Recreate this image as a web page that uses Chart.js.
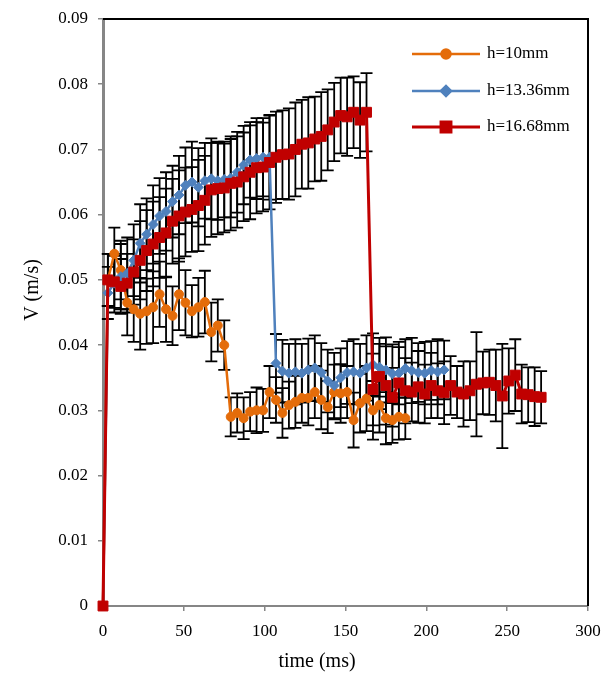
<!DOCTYPE html>
<html>
<head>
<meta charset="utf-8">
<script src="https://cdn.jsdelivr.net/npm/chart.js@4/dist/chart.umd.min.js"></script>
<style>
  body { margin: 0; background: #fff; }
  canvas { display: block; }
</style>
</head>
<body>
<canvas id="velocity-chart" width="608" height="675"></canvas>
<script>
// sample times (ms), shared by all three runs
var timeMs = [0, 3, 7, 11, 15, 19, 23, 27, 31, 35, 39, 43, 47, 51, 55, 59, 63, 67, 71, 75,
  79, 83, 87, 91, 95, 99, 103, 107, 111, 115, 119, 123, 127, 131, 135, 139, 143, 147, 151, 155,
  159, 163, 167, 171, 175, 179, 183, 187, 191, 195, 199, 203, 207, 211, 215, 219, 223, 227, 231, 235,
  239, 243, 247, 251, 255, 259, 263, 267, 271];

// h = 10 mm
var v10 = [0, 0.0500, 0.0540, 0.0515, 0.0465, 0.0455, 0.0448, 0.0452, 0.0458, 0.0478,
  0.0455, 0.0445, 0.0478, 0.0465, 0.0452, 0.0458, 0.0466, 0.0420, 0.0430, 0.0400,
  0.0290, 0.0296, 0.0288, 0.0298, 0.0300, 0.0300, 0.0328, 0.0316, 0.0296, 0.0308,
  0.0313, 0.0319, 0.0319, 0.0328, 0.0316, 0.0305, 0.0328, 0.0326, 0.0328, 0.0285,
  0.0311, 0.0318, 0.0300, 0.0308, 0.0288, 0.0285, 0.0290, 0.0288];
var err10 = [0, 0.0040, 0.0040, 0.0045, 0.0050, 0.0050, 0.0055, 0.0050, 0.0055, 0.0050,
  0.0050, 0.0045, 0.0055, 0.0050, 0.0040, 0.0045, 0.0048, 0.0045, 0.0040, 0.0038,
  0.0030, 0.0030, 0.0032, 0.0030, 0.0035, 0.0033, 0.0040, 0.0035, 0.0038, 0.0036,
  0.0040, 0.0038, 0.0042, 0.0040, 0.0045, 0.0040, 0.0042, 0.0045, 0.0040, 0.0042,
  0.0045, 0.0050, 0.0045, 0.0042, 0.0040, 0.0035, 0.0035, 0.0032];

// h = 13.36 mm
var v1336 = [0, 0.0480, 0.0495, 0.0505, 0.0510, 0.0530, 0.0556, 0.0570, 0.0585, 0.0598,
  0.0605, 0.0620, 0.0630, 0.0645, 0.0650, 0.0642, 0.0652, 0.0655, 0.0652, 0.0654,
  0.0656, 0.0665, 0.0676, 0.0684, 0.0686, 0.0688, 0.0688, 0.0372, 0.0360, 0.0357,
  0.0359, 0.0357, 0.0362, 0.0365, 0.0358, 0.0345, 0.0338, 0.0350, 0.0358, 0.0359,
  0.0357, 0.0365, 0.0370, 0.0366, 0.0362, 0.0356, 0.0357, 0.0364, 0.0361, 0.0358,
  0.0357, 0.0361, 0.0359, 0.0362];
var err1336 = [0, 0.0040, 0.0045, 0.0050, 0.0055, 0.0055, 0.0060, 0.0055, 0.0060, 0.0058,
  0.0060, 0.0055, 0.0060, 0.0058, 0.0062, 0.0060, 0.0058, 0.0062, 0.0060, 0.0058,
  0.0060, 0.0062, 0.0060, 0.0058, 0.0062, 0.0060, 0.0065, 0.0045, 0.0048, 0.0045,
  0.0050, 0.0045, 0.0048, 0.0050, 0.0045, 0.0048, 0.0050, 0.0045, 0.0048, 0.0050,
  0.0045, 0.0050, 0.0048, 0.0045, 0.0050, 0.0045, 0.0048, 0.0045, 0.0050, 0.0045,
  0.0048, 0.0045, 0.0050, 0.0045];

// h = 16.68 mm
var v1668 = [0, 0.0500, 0.0497, 0.0490, 0.0495, 0.0512, 0.0530, 0.0545, 0.0555, 0.0565,
  0.0572, 0.0590, 0.0598, 0.0604, 0.0608, 0.0614, 0.0622, 0.0638, 0.0640, 0.0641,
  0.0648, 0.0650, 0.0658, 0.0665, 0.0672, 0.0673, 0.0680, 0.0688, 0.0692, 0.0693,
  0.0700, 0.0708, 0.0710, 0.0716, 0.0720, 0.0730, 0.0742, 0.0752, 0.0750, 0.0757,
  0.0745, 0.0757, 0.0332, 0.0352, 0.0338, 0.0320, 0.0342, 0.0330, 0.0328, 0.0336,
  0.0325, 0.0338, 0.0330, 0.0327, 0.0338, 0.0328, 0.0325, 0.0330, 0.0340, 0.0342,
  0.0343, 0.0338, 0.0322, 0.0345, 0.0354, 0.0325, 0.0324, 0.0321, 0.0320];
var err1668 = [0, 0.0040, 0.0040, 0.0042, 0.0045, 0.0050, 0.0060, 0.0062, 0.0065, 0.0062,
  0.0068, 0.0065, 0.0070, 0.0068, 0.0065, 0.0070, 0.0068, 0.0072, 0.0070, 0.0068,
  0.0072, 0.0070, 0.0068, 0.0072, 0.0070, 0.0068, 0.0072, 0.0070, 0.0068, 0.0070,
  0.0072, 0.0068, 0.0070, 0.0065, 0.0068, 0.0062, 0.0060, 0.0058, 0.0060, 0.0055,
  0.0058, 0.0060, 0.0055, 0.0050, 0.0060, 0.0045, 0.0055, 0.0050, 0.0045, 0.0055,
  0.0045, 0.0050, 0.0042, 0.0048, 0.0045, 0.0040, 0.0050, 0.0045, 0.0080, 0.0048,
  0.0050, 0.0055, 0.0080, 0.0050, 0.0055, 0.0045, 0.0042, 0.0045, 0.0040];

var yTicks = [0, 0.01, 0.02, 0.03, 0.04, 0.05, 0.06, 0.07, 0.08, 0.09];
var xTicks = [0, 50, 100, 150, 200, 250, 300];

var SERIF = "'Liberation Serif', 'Times New Roman', serif";

function toPoints(vals, errs) {
  return vals.map(function (v, i) { return { x: timeMs[i], y: v, err: errs[i] }; });
}

var series = [
  { label: 'h=10mm', color: '#E46C0A', style: 'circle', radius: 4.5, width: 2.5, data: toPoints(v10, err10), order: 3 },
  { label: 'h=13.36mm', color: '#4F81BD', style: 'rectRot', radius: 5, width: 2.5, data: toPoints(v1336, err1336), order: 2 },
  { label: 'h=16.68mm', color: '#C00000', style: 'rect', radius: 7, width: 3, data: toPoints(v1668, err1668), order: 1 }
];

// vertical error bars with caps, under the lines
var errorBars = {
  id: 'errorBars',
  beforeDatasetsDraw: function (chart) {
    var ctx = chart.ctx, xs = chart.scales.x, ys = chart.scales.y;
    ctx.save();
    ctx.strokeStyle = '#000';
    ctx.lineWidth = 1.8;
    chart.data.datasets.forEach(function (ds) {
      ds.data.forEach(function (p) {
        if (!p.err) return;
        var px = xs.getPixelForValue(p.x);
        var top = ys.getPixelForValue(p.y + p.err);
        var bot = ys.getPixelForValue(p.y - p.err);
        ctx.beginPath();
        ctx.moveTo(px, top); ctx.lineTo(px, bot);
        ctx.moveTo(px - 6, top); ctx.lineTo(px + 6, top);
        ctx.moveTo(px - 6, bot); ctx.lineTo(px + 6, bot);
        ctx.stroke();
      });
    });
    ctx.restore();
  }
};

// black frame on top and right, axis titles and line+marker legend
var frameAndLabels = {
  id: 'frameAndLabels',
  afterDraw: function (chart) {
    var ctx = chart.ctx, a = chart.chartArea;
    ctx.save();
    ctx.strokeStyle = '#000';
    ctx.lineWidth = 2;
    ctx.beginPath();
    ctx.moveTo(a.left, a.top); ctx.lineTo(a.right, a.top); ctx.lineTo(a.right, a.bottom);
    ctx.stroke();

    ctx.fillStyle = '#000';
    ctx.font = '20px ' + SERIF;
    ctx.textAlign = 'center';
    ctx.textBaseline = 'middle';
    ctx.fillText('time (ms)', 317, 662);
    ctx.save();
    ctx.translate(33, 290);
    ctx.rotate(-Math.PI / 2);
    ctx.fillText('V (m/s)', 0, 0);
    ctx.restore();

    ctx.font = '17px ' + SERIF;
    ctx.textAlign = 'left';
    var rows = [54, 91, 127];
    series.forEach(function (s, i) {
      var y = rows[i];
      ctx.strokeStyle = s.color;
      ctx.lineWidth = s.width;
      ctx.beginPath();
      ctx.moveTo(412, y); ctx.lineTo(480, y);
      ctx.stroke();
      ctx.fillStyle = s.color;
      Chart.helpers.drawPoint(ctx, { pointStyle: s.style, radius: s.radius, borderWidth: 1 }, 446, y);
      ctx.fillStyle = '#000';
      ctx.fillText(s.label, 487, y);
    });
    ctx.restore();
  }
};

var chart = new Chart(document.getElementById('velocity-chart'), {
  type: 'scatter',
  data: {
    datasets: series.map(function (s) {
      return {
        label: s.label,
        data: s.data,
        showLine: true,
        borderColor: s.color,
        backgroundColor: s.color,
        borderWidth: s.width,
        pointStyle: s.style,
        pointRadius: s.radius,
        pointBorderWidth: 1,
        pointBorderColor: s.color,
        pointBackgroundColor: s.color,
        order: s.order,
        clip: false
      };
    })
  },
  options: {
    responsive: false,
    animation: false,
    devicePixelRatio: 1,
    layout: { padding: { left: 0, right: 20, top: 19, bottom: 0 } },
    plugins: {
      legend: { display: false },
      tooltip: { enabled: false }
    },
    scales: {
      x: {
        type: 'linear',
        min: 0,
        max: 300,
        afterBuildTicks: function (s) { s.ticks = xTicks.map(function (v) { return { value: v }; }); },
        // fixed axis band; label overflow is covered by the layout padding
        afterFit: function (s) { s.height = 69; s.paddingLeft = 0; s.paddingRight = 0; },
        ticks: { color: '#000', padding: 10, font: { family: SERIF, size: 17 }, maxRotation: 0 },
        grid: { drawOnChartArea: false, drawTicks: true, tickLength: 5, color: '#868686', lineWidth: 1.5 },
        border: { color: '#868686', width: 2 }
      },
      y: {
        min: 0,
        max: 0.09,
        afterBuildTicks: function (s) { s.ticks = yTicks.map(function (v) { return { value: v }; }); },
        afterFit: function (s) { s.width = 103; s.paddingTop = 0; s.paddingBottom = 0; },
        ticks: {
          color: '#000',
          padding: 10,
          font: { family: SERIF, size: 17 },
          callback: function (v) { return v === 0 ? '0' : v.toFixed(2); }
        },
        grid: { drawOnChartArea: false, drawTicks: true, tickLength: 5, color: '#868686', lineWidth: 1.5 },
        border: { color: '#868686', width: 3 }
      }
    }
  },
  plugins: [errorBars, frameAndLabels]
});
</script>
</body>
</html>
